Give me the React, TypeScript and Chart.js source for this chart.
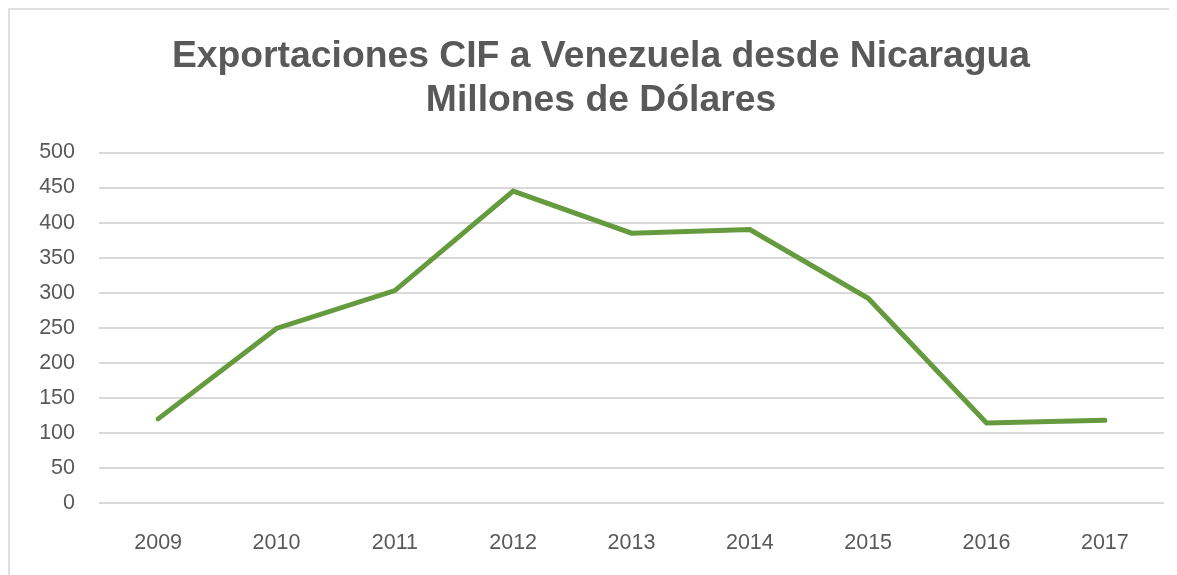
import React, { useEffect, useRef } from "react";
import { Chart, registerables } from "chart.js";

Chart.register(...registerables);

const titleLines = ["Exportaciones CIF a Venezuela desde Nicaragua", "Millones de Dólares"];
const years = ["2009", "2010", "2011", "2012", "2013", "2014", "2015", "2016", "2017"];
const exportsValues = [120, 249, 303, 445, 385, 390, 292, 114, 118];
const yMin = 0;
const yMax = 500;
const yStep = 50;

export default function App() {
  const ref = useRef<HTMLCanvasElement | null>(null);

  useEffect(() => {
    document.documentElement.style.overflow = "hidden";
    document.body.style.overflow = "hidden";
    if (!ref.current) return;
    const chart = new Chart(ref.current, {
      type: "line",
      data: {
        labels: years,
        datasets: [
          {
            label: "Exportaciones",
            data: exportsValues,
            borderColor: "#659B3E",
            backgroundColor: "#659B3E",
            borderWidth: 5,
            pointRadius: 0,
            pointHoverRadius: 0,
            tension: 0,
            borderCapStyle: "round",
            borderJoinStyle: "miter",
          },
        ],
      },
      options: {
        responsive: false,
        animation: false,
        layout: { padding: { left: 28, right: 13, top: 0, bottom: 0 } },
        plugins: {
          legend: { display: false },
          tooltip: { enabled: false },
          title: {
            display: true,
            text: titleLines,
            color: "#595959",
            font: { family: "'Liberation Sans', Arial, sans-serif", size: 37.3, weight: "bold", lineHeight: 1.2 },
            padding: { top: 24, bottom: 29 },
          },
        },
        scales: {
          x: {
            offset: true,
            grid: { display: false, drawTicks: false },
            border: { display: false },
            ticks: {
              color: "#595959",
              font: { family: "'Liberation Sans', Arial, sans-serif", size: 21.5 },
              padding: 27,
              maxRotation: 0,
            },
            afterFit: (s: any) => {
              s.height = 72;
            },
          },
          y: {
            min: yMin,
            max: yMax,
            grid: { color: "#D9D9D9", lineWidth: 2, drawTicks: false },
            border: { display: false },
            ticks: {
              stepSize: yStep,
              color: "#595959",
              font: { family: "'Liberation Sans', Arial, sans-serif", size: 21.5 },
              padding: 24,
            },
            afterFit: (s: any) => {
              s.width = 61;
            },
          },
        },
      },
    });
    return () => chart.destroy();
  }, []);

  return (
    <div
      style={{
        width: 1169,
        height: 567,
        borderLeft: "2px solid #E0E0E0",
        borderTop: "2px solid #E0E0E0",
        boxSizing: "border-box",
        background: "#fff",
      }}
    >
      <canvas ref={ref} width={1167} height={565} style={{ display: "block" }} />
    </div>
  );
}
